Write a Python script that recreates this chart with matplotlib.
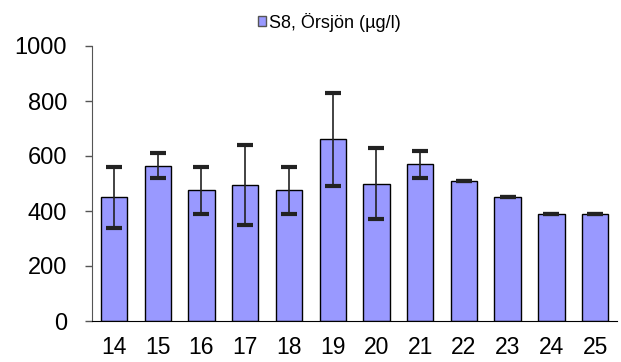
import numpy as np
import matplotlib.pyplot as plt

# data
weeks = ['14', '15', '16', '17', '18', '19', '20', '21', '22', '23', '24', '25']
mean = [450, 565, 475, 495, 475, 660, 500, 570, 510, 450, 390, 390]
upper = [560, 610, 560, 640, 560, 830, 630, 620, 510, 450, 390, 390]
lower = [340, 520, 390, 350, 390, 490, 370, 520, 510, 450, 390, 390]

plt.rcParams['font.family'] = ['Liberation Sans', 'DejaVu Sans']

fig = plt.figure(figsize=(6.21, 3.62), dpi=100)
ax = fig.add_axes([92/621, 41/362, 525/621, 275/362])

x = np.arange(len(weeks))
m = np.array(mean)
yerr = [m - np.array(lower), np.array(upper) - m]

ax.bar(x, m, width=0.6, color='#9999FF', edgecolor='black', linewidth=1,
       label='S8, Örsjön (µg/l)', zorder=2)
ax.errorbar(x, m, yerr=yerr, fmt='none', ecolor='#222222', elinewidth=1.2,
            capsize=5.5, capthick=3, zorder=3)

ax.set_xlim(-0.5, len(weeks) - 0.5)
ax.set_ylim(0, 1000)
ax.set_yticks(np.arange(0, 1001, 200))
ax.set_xticks(x)
ax.set_xticklabels(weeks)
ax.tick_params(axis='y', length=5, width=1, color='#555555', labelsize=17, pad=13)
ax.tick_params(axis='x', length=0, labelsize=16.5, pad=11)

for s in ['top', 'right']:
    ax.spines[s].set_visible(False)
ax.spines['left'].set_color('#555555')
ax.spines['bottom'].set_color('black')

leg = fig.legend(loc='upper center', bbox_to_anchor=(0.53, 1.01), frameon=False,
                 fontsize=13, handlelength=0.45, handleheight=0.45, handletextpad=0.15)
for h in leg.legend_handles:
    h.set_edgecolor('#555555')

plt.savefig('out.png', dpi=100)
